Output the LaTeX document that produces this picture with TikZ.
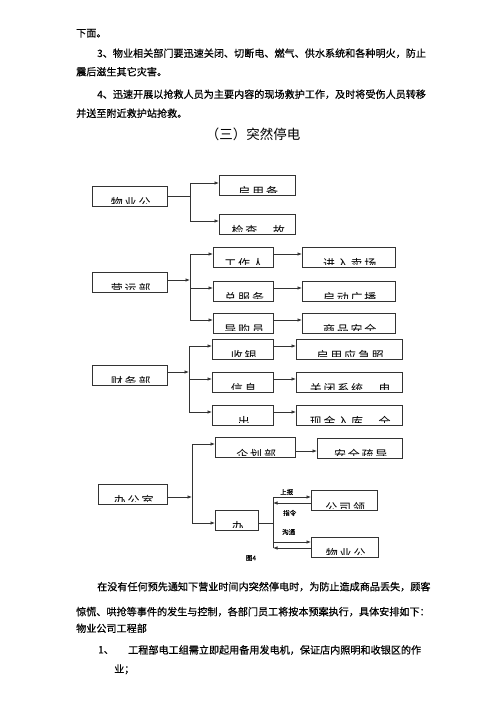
\documentclass[tikz,border=0pt]{standalone}
\usepackage{fontspec}
\setmainfont{Noto Sans CJK SC}
\newfontfamily\cjk[FakeBold=0.5]{Noto Sans CJK SC}
\newfontfamily\cjkt{Noto Sans CJK SC}
\newfontfamily\boxfont[LetterSpace=15]{Noto Sans CJK SC}
\usetikzlibrary{arrows.meta}
\XeTeXlinebreaklocale "zh"
\XeTeXlinebreakskip=0pt plus 3pt
\newcommand\jl[2]{\makebox[#1pt][s]{#2}}
\tikzset{
  box/.style={draw=black!80, line width=0.7pt, inner sep=0pt, minimum height=20pt, anchor=west},
  ln/.style={draw=black!80, line width=0.7pt},
  arr/.style={ln, -{Latex[length=4.5pt,width=3.5pt]}},
  txt/.style={anchor=west, inner sep=0pt, font=\cjk\fontsize{10.1}{12}\selectfont},
  lbl/.style={anchor=west, inner sep=0pt, font=\cjk\fontsize{6.5}{7}\selectfont},
  ttl/.style={inner sep=0pt, font=\cjkt\fontsize{13.5}{15}\selectfont}
}
\newcommand\bx[5]{%
  \node[box, minimum width=#4pt, path picture={%
    \clip ([yshift=2.2pt]path picture bounding box.south west) rectangle (path picture bounding box.north east);
    \node[anchor=base, inner sep=0pt, font=\boxfont\fontsize{12}{12}\selectfont]
      at ([yshift=-21.5pt,xshift=0.9pt]path picture bounding box.north) {#5};}] (#1) at (#2,#3) {};}
\begin{document}
\begin{tikzpicture}[x=1pt,y=-1pt]
\useasboundingbox (0,0) rectangle (500,708);
% top text
\node[txt] (t1) at (76,33.3) {下面。};
\node[txt] (t2) at (97,53.3) {\jl{328}{3、物业相关部门要迅速关闭、切断电、燃气、供水系统和各种明火，防止}};
\node[txt] (t3) at (76,71.7) {震后滋生其它灾害。};
\node[txt] (t4) at (97,94.3) {\jl{328}{4、迅速开展以抢救人员为主要内容的现场救护工作，及时将受伤人员转移}};
\node[txt] (t5) at (76,113.3) {并送至附近救护站抢救。};
\node[ttl] (title) at (253,134) {（三）突然停电};
% group 1
\bx{wya}{92}{196}{75}{物业公}
\bx{qyb}{219}{185}{76}{启用备}
\bx{jcg}{219}{224}{76}{检查　故}
\coordinate (j1) at (190,196);
\coordinate (j1t) at (190,183);
\coordinate (j1b) at (190,221);
\draw[ln] (wya.east) -- (j1);
\draw[ln] (j1t) -- (j1b);
\draw[arr] (j1t) -- (j1t -| qyb.west);
\draw[arr] (j1b) -- (j1b -| jcg.west);
% group 2
\bx{yyb}{92}{282}{75}{营运部}
\bx{gzr}{213}{257}{60}{工作人}
\bx{zfw}{213}{291}{60}{总服务}
\bx{dgy}{213}{323}{60}{导购员}
\bx{jrmc}{302}{257}{93}{进入卖场}
\bx{qdgb}{302}{291}{93}{启动广播}
\bx{spaq}{302}{323}{93}{商品安全}
\coordinate (j2) at (190,280);
\coordinate (j2a) at (190,254);
\coordinate (j2b) at (190,288);
\coordinate (j2c) at (190,320);
\draw[arr] (yyb.east |- j2) -- (j2);
\draw[ln] (j2a) -- (j2c);
\draw[arr] (j2a) -- (j2a -| gzr.west);
\draw[arr] (j2b) -- (j2b -| zfw.west);
\draw[arr] (j2c) -- (j2c -| dgy.west);
\draw[arr] (gzr.east |- j2a) -- (jrmc.west |- j2a);
\draw[arr] (zfw.east |- j2b) -- (qdgb.west |- j2b);
\draw[arr] (dgy.east |- j2c) -- (spaq.west |- j2c);
% group 3
\bx{cwb}{92}{375}{75}{财务部}
\bx{sy}{212}{349}{61}{收银}
\bx{xx}{212}{382}{61}{信息}
\bx{cn}{212}{415}{61}{出}
\bx{qyyj}{296}{349}{106}{启用应急照}
\bx{gbxt}{296}{382}{106}{关闭系统　电}
\bx{xjrk}{296}{415}{106}{现金入库　全}
\coordinate (j3) at (189,372);
\coordinate (j3a) at (189,346);
\coordinate (j3b) at (189,379);
\coordinate (j3c) at (189,412);
\draw[arr] (cwb.east |- j3) -- (j3);
\draw[ln] (j3a) -- (j3c);
\draw[arr] (j3a) -- (j3a -| sy.west);
\draw[arr] (j3b) -- (j3b -| xx.west);
\draw[arr] (j3c) -- (j3c -| cn.west);
\draw[arr] (sy.east |- j3a) -- (qyyj.west |- j3a);
\draw[arr] (xx.east |- j3b) -- (gbxt.west |- j3b);
\draw[arr] (cn.east |- j3c) -- (xjrk.west |- j3c);
% group 4
\bx{bgs}{98}{494}{69}{办公室}
\bx{qhb}{215}{447.5}{80}{企划部}
\bx{aqsd}{317}{448}{85}{安全疏导}
\bx{ban}{215}{520}{43}{办}
\bx{gsl}{311}{500.5}{66}{公司领}
\bx{wyb}{311}{547}{67}{物业公}
\coordinate (j4) at (192,497);
\coordinate (j4a) at (192,444);
\coordinate (j4b) at (192,523);
\draw[arr] (bgs.east |- j4) -- (j4);
\draw[ln] (j4a) -- (j4b);
\draw[arr] (j4a) -- (j4a -| qhb.west);
\draw[arr] (j4b) -- (j4b -| ban.west);
\draw[arr] (qhb.east |- 0,451) -- (aqsd.west |- 0,451);
\coordinate (j5) at (273,523);
\coordinate (j5a) at (273,497);
\coordinate (j5b) at (273,548);
\draw[ln] (ban.east |- j5) -- (j5);
\draw[ln] (j5a) -- (j5b);
\draw[arr] (j5a) -- (j5a -| gsl.west);
\draw[arr] (gsl.west |- 0,503) -- (j5a |- 0,503);
\draw[arr] (j5 |- 0,542) -- (wyb.west |- 0,542);
\draw[arr] (wyb.west |- j5b) -- (j5b);
\node[lbl] (sb) at (280,492) {上报};
\node[lbl] (zl) at (283,513) {指令};
\node[lbl] (gt) at (282,532) {沟通};
\node[lbl, anchor=center] (cap) at (251,558) {图4};
% bottom text
\node[txt] (b1) at (97,586.7) {\jl{328}{在没有任何预先通知下营业时间内突然停电时，为防止造成商品丢失，顾客}};
\node[txt] (b2) at (76,611.7) {\jl{349}{惊慌、哄抢等事件的发生与控制，各部门员工将按本预案执行，具体安排如下：}};
\node[txt] (b3) at (76,628.3) {物业公司工程部};
\node[txt] (b4n) at (98,650) {1、};
\node[txt] (b4) at (128,650) {\jl{294}{工程部电工组需立即起用备用发电机，保证店内照明和收银区的作}};
\node[txt] (b5) at (114,669.3) {业；};
\end{tikzpicture}
\end{document}
